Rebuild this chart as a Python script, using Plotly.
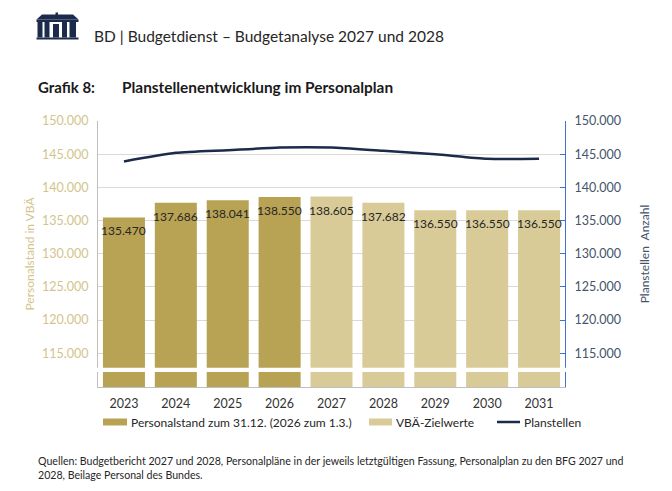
import plotly.graph_objects as go

years = ["2023", "2024", "2025", "2026", "2027", "2028", "2029", "2030", "2031"]
ist_years = ["2023", "2024", "2025", "2026"]
ist_values = [135470, 137686, 138041, 138550]
ziel_years = ["2027", "2028", "2029", "2030", "2031"]
ziel_values = [138605, 137682, 136550, 136550, 136550]
planstellen = [143900, 145200, 145600, 146000, 146000, 145500, 145000, 144300, 144300]
tick_vals = [115000, 120000, 125000, 130000, 135000, 140000, 145000, 150000]
legend_names = ["Personalstand zum 31.12. (2026 zum 1.3.)", "VBÄ-Zielwerte", "Planstellen"]

W, H = 672, 491
ML, MR, MT, MB = 98, 107, 121, 104
PW, PH = W - ML - MR, H - MT - MB


def px(x):
    return (x - ML) / PW


def py(y):
    return (H - MB - y) / PH


DARK = "#B8A253"
LIGHT = "#D8CB97"
NAVY = "#1C2B4B"
GOLD_TXT = "#D3C48C"
SLATE = "#44546A"
FONT = "Lato"

fig = go.Figure()
fig.add_trace(go.Bar(x=ist_years, y=ist_values, name=legend_names[0],
                     marker=dict(color=DARK, line=dict(width=0)), yaxis="y", showlegend=False))
fig.add_trace(go.Bar(x=ziel_years, y=ziel_values, name=legend_names[1],
                     marker=dict(color=LIGHT, line=dict(width=0)), yaxis="y", showlegend=False))
fig.add_trace(go.Scatter(x=years, y=planstellen, name=legend_names[2], mode="lines",
                         line=dict(color=NAVY, width=2.5, shape="spline", smoothing=0.6), yaxis="y2",
                         showlegend=False))

shapes = []
annotations = []

# data labels (x given as category index)
for xv, yv in zip(ist_years + ziel_years, ist_values + ziel_values):
    annotations.append(dict(x=years.index(xv), y=yv, xref="x", yref="y", text=f"{yv:,}".replace(",", "."),
                            showarrow=False, yanchor="top", yshift=-4,
                            font=dict(size=12, color="#262626", family=FONT)))

# axis break band
shapes.append(dict(type="rect", xref="paper", yref="y", x0=-0.02, x1=1.02, y0=112150, y1=112800,
                   fillcolor="white", line=dict(width=0), layer="above"))


def rect(x0, y0, x1, y1, color=NAVY):
    return dict(type="rect", xref="paper", yref="paper", x0=px(x0), x1=px(x1), y0=py(y1), y1=py(y0),
                fillcolor=color, line=dict(width=0), layer="above")


# logo
path = "M {},{} L {},{} L {},{} L {},{} L {},{} Z".format(
    px(36.5), py(19.5), px(42), py(14.5), px(73), py(14.5), px(78.5), py(19.5), px(36.5), py(19.5))
shapes.append(dict(type="path", xref="paper", yref="paper", path=path, fillcolor=NAVY,
                   line=dict(width=0), layer="above"))
shapes.append(rect(55.5, 12.5, 58, 16))
shapes.append(rect(36.5, 19.5, 78.5, 22))
for c0, c1 in [(37.5, 42.5), (44.5, 49.5), (62, 67), (69.5, 76)]:
    shapes.append(rect(c0, 22, c1, 37.5))
shapes.append(rect(53, 24, 59, 37.5))
shapes.append(rect(36.5, 37.5, 78.5, 39.5))

# legend (manual)
shapes.append(rect(103, 418.5, 127, 425.5, DARK))
shapes.append(rect(369, 418.5, 392, 425.5, LIGHT))
shapes.append(dict(type="line", xref="paper", yref="paper", x0=px(497), x1=px(520), y0=py(422), y1=py(422),
                   line=dict(color=NAVY, width=2.5), layer="above"))
for name, lx in zip(legend_names, [129, 394, 522]):
    annotations.append(dict(text=name, x=px(lx), y=py(422), xref="paper", yref="paper", xanchor="left",
                            yanchor="middle", showarrow=False,
                            font=dict(size=12, color="#262626", family=FONT)))

annotations += [
    dict(text="BD | Budgetdienst – Budgetanalyse 2027 und 2028", x=px(92), y=py(36), xref="paper", yref="paper",
         xanchor="left", yanchor="middle", showarrow=False, font=dict(size=15.5, color="#262626", family=FONT)),
    dict(text="<b>Grafik 8:</b>", x=px(36), y=py(87), xref="paper", yref="paper",
         xanchor="left", yanchor="middle", showarrow=False, font=dict(size=15, color="#1a1a1a", family=FONT)),
    dict(text="<b>Planstellenentwicklung im Personalplan</b>", x=px(120), y=py(87), xref="paper", yref="paper",
         xanchor="left", yanchor="middle", showarrow=False, font=dict(size=15.4, color="#1a1a1a", family=FONT)),
    dict(text="Quellen: Budgetbericht 2027 und 2028, Personalpläne in der jeweils letztgültigen Fassung, Personalplan zu den BFG 2027 und<br>2028, Beilage Personal des Bundes.",
         x=px(36), y=py(453), xref="paper", yref="paper", xanchor="left", yanchor="top", align="left",
         showarrow=False, font=dict(size=10.6, color="#262626", family=FONT)),
]

fig.update_layout(
    width=W, height=H, margin=dict(l=ML, r=MR, t=MT, b=MB, autoexpand=False),
    paper_bgcolor="white", plot_bgcolor="white", separators=",.",
    font=dict(family=FONT, size=12, color="#333333"),
    barmode="overlay", bargap=0.19, showlegend=False,
    xaxis=dict(type="category", categoryorder="array", categoryarray=years, range=[-0.5, len(years) - 0.5],
               showline=True, linecolor="#BFBFBF", linewidth=1, ticks="", showgrid=False, ticklabelstandoff=5,
               tickfont=dict(size=12.5, color="#333333", family=FONT)),
    yaxis=dict(range=[109900, 150000], tickvals=tick_vals, tickformat=",d", showline=True,
               linecolor="#BFBFBF", linewidth=1, gridcolor="#D9D9D9", gridwidth=1, ticks="",
               ticklabelstandoff=6,
               tickfont=dict(size=12.5, color=GOLD_TXT, family=FONT), zeroline=False,
               title=dict(text="Personalstand in VBÄ", font=dict(size=12, color=GOLD_TXT, family=FONT), standoff=4)),
    yaxis2=dict(range=[109900, 150000], tickvals=tick_vals, tickformat=",d", overlaying="y", side="right",
                showline=True, linecolor="#4472C4", linewidth=1.2, ticks="inside", ticklen=5,
                tickcolor="#4472C4", showgrid=False, zeroline=False, ticklabelstandoff=6,
                tickfont=dict(size=12.5, color=SLATE, family=FONT),
                title=dict(text="Planstellen  Anzahl", font=dict(size=12, color=SLATE, family=FONT), standoff=20)),
    shapes=shapes, annotations=annotations,
)

fig.write_html("out.html")
